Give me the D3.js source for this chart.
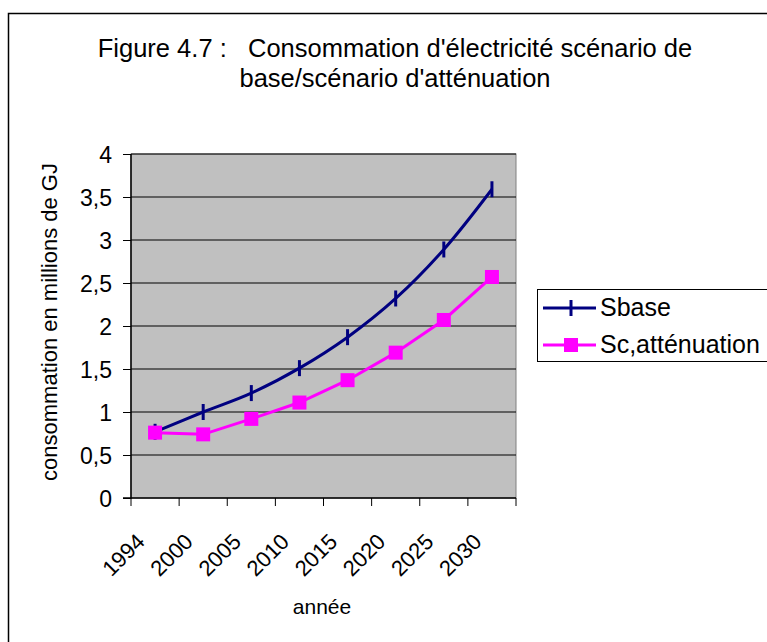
<!DOCTYPE html>
<html><head><meta charset="utf-8">
<script src="https://cdn.jsdelivr.net/npm/d3@7"></script>
<style>body{margin:0;background:#fff}svg{display:block}text{font-family:"Liberation Sans",Arial,sans-serif;fill:#000}</style>
</head><body>
<script>
const years = ["1994","2000","2005","2010","2015","2020","2025","2030"];
const sbase = [0.77, 1.00, 1.22, 1.51, 1.87, 2.32, 2.89, 3.59];
const sAtt = [0.76, 0.74, 0.92, 1.11, 1.37, 1.69, 2.07, 2.57];
const yTicks = [0, 0.5, 1, 1.5, 2, 2.5, 3, 3.5, 4];
const seriesNames = ["Sbase", "Sc,atténuation"];
const titleLines = ["Figure 4.7 :   Consommation d'électricité scénario de", "base/scénario d'atténuation"];

const W = 767, H = 642;
const svg = d3.select("body").append("svg").attr("width", W).attr("height", H);

svg.append("rect").attr("x", 8.5).attr("y", 13.5).attr("width", 800).attr("height", 700)
  .attr("fill", "#fff").attr("stroke", "#000").attr("stroke-width", 1.5);

const L = 131, R = 516, T = 154, B = 498;
const x = d3.scaleBand().domain(years).range([L, R]).padding(0);
const y = d3.scaleLinear().domain([0, 4]).range([B, T]);

svg.append("rect").attr("x", L).attr("y", T).attr("width", R - L).attr("height", B - T)
  .attr("fill", "#c0c0c0").attr("stroke", "#808080").attr("stroke-width", 1);

svg.append("g").selectAll("line").data(yTicks.filter(d => d > 0)).join("line")
  .attr("x1", L).attr("x2", R).attr("y1", d => y(d)).attr("y2", d => y(d))
  .attr("stroke", "#000").attr("stroke-width", 1);

const yAxis = d3.axisLeft(y).tickValues(yTicks).tickSize(8).tickPadding(11)
  .tickFormat(d => String(d).replace(".", ","));
const gy = svg.append("g").attr("transform", `translate(${L},0)`).call(yAxis);
gy.select(".domain").attr("stroke", "#000").attr("stroke-width", 1.5).attr("d", `M-8,${B}H0V${T}`);
gy.selectAll(".tick line").attr("stroke", "#000");
gy.selectAll("text").style("font-size", "23px").style("font-family", '"Liberation Sans",Arial,sans-serif')
  .attr("dy", "0.35em");

const gx = svg.append("g");
gx.append("line").attr("x1", L).attr("x2", R).attr("y1", B).attr("y2", B).attr("stroke", "#000").attr("stroke-width", 1.5);
const bounds = years.map(d => x(d)).concat([x(years[years.length - 1]) + x.bandwidth()]);
gx.selectAll("line.t").data(bounds).join("line").attr("class", "t")
  .attr("x1", d => d).attr("x2", d => d).attr("y1", B).attr("y2", B + 8).attr("stroke", "#000");
gx.selectAll("text").data(years).join("text")
  .attr("transform", d => `translate(${x(d) + x.bandwidth() / 2 - 9},${B + 45}) rotate(-45)`)
  .attr("text-anchor", "end").style("font-size", "22px")
  .text(d => d);

svg.append("text").attr("transform", `translate(57,322) rotate(-90)`)
  .attr("text-anchor", "middle").style("font-size", "22px").text("consommation en millions de GJ");
svg.append("text").attr("x", 322).attr("y", 614).attr("text-anchor", "middle")
  .style("font-size", "21px").text("année");

svg.append("g").selectAll("text").data(titleLines).join("text")
  .attr("x", 395).attr("y", (d, i) => 57 + i * 30).attr("text-anchor", "middle")
  .style("font-size", "25.5px").style("white-space", "pre").text(d => d);

const cx = d => x(d) + x.bandwidth() / 2;
const blue = "#000080", pink = "#ff00ff";

svg.append("path").datum(sbase)
  .attr("d", d3.line().x((d, i) => cx(years[i])).y(d => y(d)).curve(d3.curveCatmullRom))
  .attr("fill", "none").attr("stroke", blue).attr("stroke-width", 3);
svg.append("g").selectAll("line").data(sbase).join("line")
  .attr("x1", (d, i) => cx(years[i])).attr("x2", (d, i) => cx(years[i]))
  .attr("y1", d => y(d) - 8).attr("y2", d => y(d) + 8).attr("stroke", blue).attr("stroke-width", 3);

svg.append("path").datum(sAtt)
  .attr("d", d3.line().x((d, i) => cx(years[i])).y(d => y(d)))
  .attr("fill", "none").attr("stroke", pink).attr("stroke-width", 3);
svg.append("g").selectAll("rect").data(sAtt).join("rect")
  .attr("x", (d, i) => cx(years[i]) - 7).attr("y", d => y(d) - 7)
  .attr("width", 14).attr("height", 14).attr("fill", pink);

const lg = svg.append("g");
lg.append("rect").attr("x", 537.5).attr("y", 289.5).attr("width", 300).attr("height", 72)
  .attr("fill", "#fff").attr("stroke", "#000").attr("stroke-width", 1);
const ly = [308, 345];
lg.append("line").attr("x1", 543).attr("x2", 596).attr("y1", ly[0]).attr("y2", ly[0]).attr("stroke", blue).attr("stroke-width", 3);
lg.append("line").attr("x1", 571).attr("x2", 571).attr("y1", ly[0] - 8).attr("y2", ly[0] + 8).attr("stroke", blue).attr("stroke-width", 3);
lg.append("line").attr("x1", 543).attr("x2", 596).attr("y1", ly[1]).attr("y2", ly[1]).attr("stroke", pink).attr("stroke-width", 3);
lg.append("rect").attr("x", 564).attr("y", ly[1] - 7).attr("width", 14).attr("height", 14).attr("fill", pink);
lg.selectAll("text.l").data(seriesNames).join("text").attr("class", "l")
  .attr("x", 600).attr("y", (d, i) => ly[i] + 8).style("font-size", "25px").text(d => d);
</script>
</body></html>
